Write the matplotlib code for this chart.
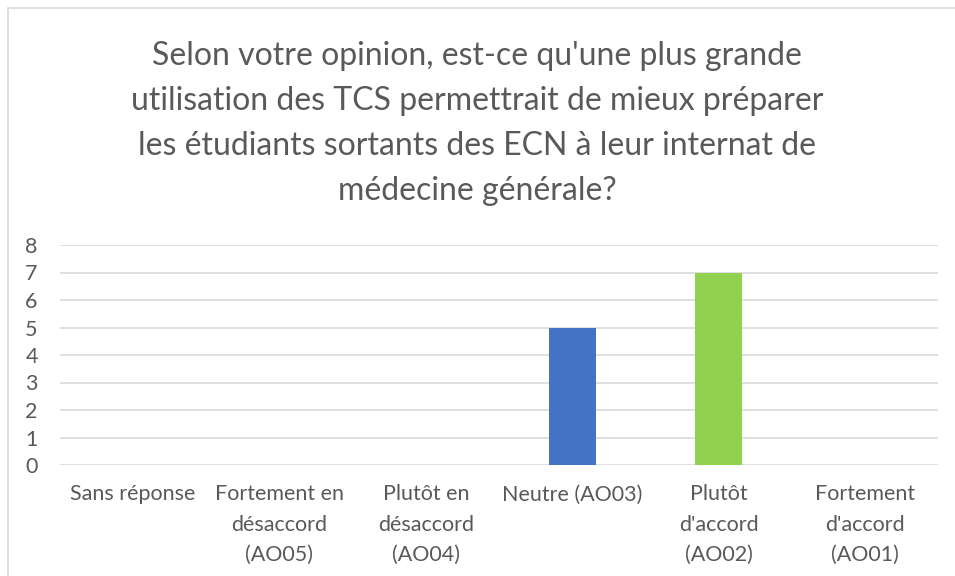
import matplotlib
matplotlib.use("Agg")
import matplotlib.pyplot as plt
from matplotlib.patches import Rectangle

categories = ["Sans réponse", "Fortement en\ndésaccord\n(AO05)", "Plutôt en\ndésaccord\n(AO04)",
              "Neutre (AO03)", "Plutôt\nd'accord\n(AO02)", "Fortement\nd'accord\n(AO01)"]
values = [0, 0, 0, 5, 7, 0]
colors = ["#4472C4", "#4472C4", "#4472C4", "#4472C4", "#92D050", "#4472C4"]
yticks = [0, 1, 2, 3, 4, 5, 6, 7, 8]
title_lines = ["Selon votre opinion, est-ce qu'une plus grande",
               "utilisation des TCS permettrait de mieux préparer",
               "les étudiants sortants des ECN à leur internat de",
               "médecine générale?"]

plt.rcParams['font.family'] = ['Lato', 'DejaVu Sans']
W, H = 955, 576
fig = plt.figure(figsize=(W/100, H/100), dpi=100)
fig.patch.set_facecolor("white")

# outer chart border
fig.patches.append(Rectangle((8/W, -0.1), 1.2, 1 - 8/H + 0.1, transform=fig.transFigure,
                             fill=False, edgecolor="#D9D9D9", linewidth=1.2))

ax = fig.add_axes([60/W, 1 - 465/H, (938-60)/W, (465-245)/H])
x = list(range(len(categories)))
ax.bar(x, values, width=0.32, color=colors, zorder=3)
ax.set_xlim(-0.5, len(categories) - 0.5)
ax.set_ylim(0, 8)
ax.set_yticks(yticks)
ax.set_yticklabels([str(t) for t in yticks])
ax.set_xticks(x)
ax.set_xticklabels(categories, linespacing=1.65)
for s in ax.spines.values():
    s.set_visible(False)
ax.grid(axis="y", color="#D9D9D9", linewidth=1.2, zorder=0)
ax.tick_params(axis="both", length=0, colors="#595959", labelsize=15.5)
ax.tick_params(axis="y", pad=25)
ax.tick_params(axis="x", pad=14)
for lbl in ax.get_yticklabels():
    lbl.set_horizontalalignment("left")

baselines = [65, 110, 155, 200]
for line, b in zip(title_lines, baselines):
    fig.text(477/W, 1 - b/H, line, ha="center", va="baseline", fontsize=23,
             color="#595959")

fig.savefig("out.png", dpi=100, facecolor="white")
